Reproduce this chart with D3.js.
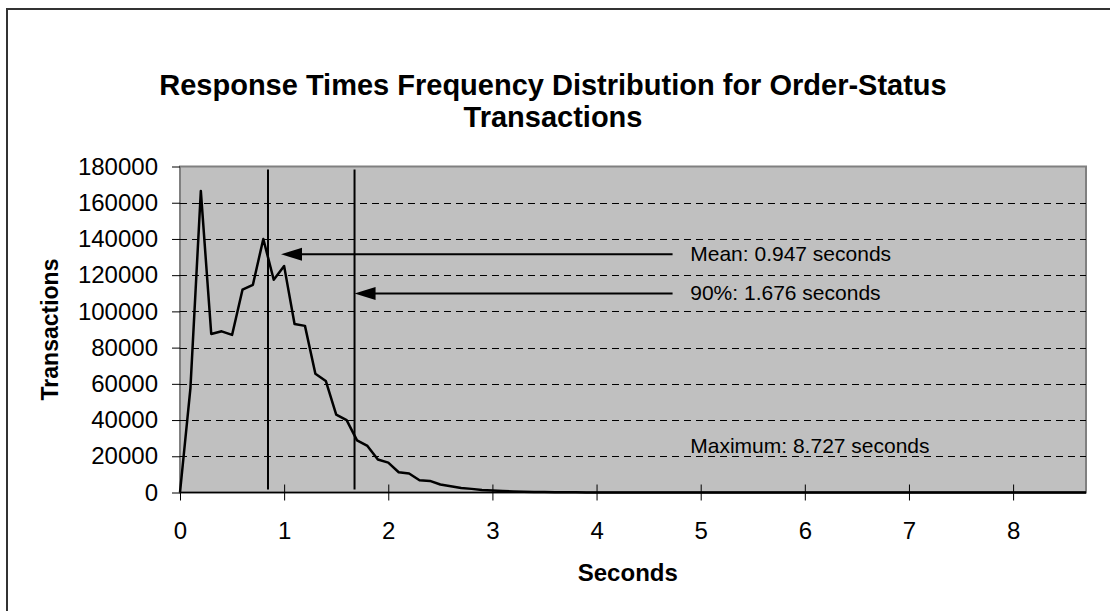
<!DOCTYPE html>
<html>
<head>
<meta charset="utf-8">
<script src="https://cdn.jsdelivr.net/npm/d3@7"></script>
<style>
  html, body { margin: 0; padding: 0; background: #fff; }
  text { font-family: "Liberation Sans", Arial, sans-serif; fill: #000; }
</style>
</head>
<body>
<svg id="chart" width="1110" height="611"></svg>
<script>
// ---- data ----
const seconds = [
  0.0, 0.1, 0.2, 0.3, 0.4, 0.5, 0.6, 0.7, 0.8, 0.9,
  1.0, 1.1, 1.2, 1.3, 1.4, 1.5, 1.6, 1.7, 1.8, 1.9,
  2.0, 2.1, 2.2, 2.3, 2.4, 2.5, 2.6, 2.7, 2.8, 2.9,
  3.0, 3.1, 3.2, 3.3, 3.4, 3.5, 3.6, 3.7, 3.8, 3.9,
  4.0, 4.1, 4.2, 4.3, 4.4, 4.5, 4.6, 4.7, 4.8, 4.9,
  5.0, 5.1, 5.2, 5.3, 5.4, 5.5, 5.6, 5.7, 5.8, 5.9,
  6.0, 6.1, 6.2, 6.3, 6.4, 6.5, 6.6, 6.7, 6.8, 6.9,
  7.0, 7.1, 7.2, 7.3, 7.4, 7.5, 7.6, 7.7, 7.8, 7.9,
  8.0, 8.1, 8.2, 8.3, 8.4, 8.5, 8.6, 8.7
];
const transactions = [
  0, 57500, 166500, 87500, 89000, 87000, 112000, 114700, 140000, 117500,
  125000, 93000, 92000, 65600, 61600, 43000, 40000, 28800, 25700, 18200,
  16500, 11200, 10500, 6800, 6400, 4400, 3500, 2500, 2000, 1400,
  1100, 800, 600, 450, 330, 250, 180, 130, 90, 65,
  45, 32, 24, 18, 13, 10, 8, 6, 5, 4,
  3, 3, 2, 2, 2, 1, 1, 1, 1, 1,
  1, 1, 1, 0, 0, 0, 0, 0, 0, 0,
  0, 0, 0, 0, 0, 0, 0, 0, 0, 0,
  0, 0, 0, 0, 0, 0, 0, 1
];
const xTicks = [0, 1, 2, 3, 4, 5, 6, 7, 8];
const yTicks = [0, 20000, 40000, 60000, 80000, 100000, 120000, 140000, 160000, 180000];
const titleLines = ["Response Times Frequency Distribution for Order-Status", "Transactions"];
const xTitle = "Seconds";
const yTitle = "Transactions";
// marker lines: where they are drawn (seconds) and the arrow height (transactions)
const markers = [
  {label: "Mean: 0.947 seconds", at: 0.845, arrowTip: 0.97, arrowY: 131600},
  {label: "90%: 1.676 seconds", at: 1.676, arrowTip: 1.676, arrowY: 109900}
];
const maxLabel = {label: "Maximum: 8.727 seconds", y: 25500};
const labelAt = 4.9;
const arrowEnd = 4.73;

// ---- layout ----
const svg = d3.select('#chart');
const plot = {left: 180, right: 1086, top: 166.5, bottom: 492.5};
const tick_font = '24px';

const x = d3.scaleLinear().domain([0, 8.7]).range([plot.left, plot.right]);
const y = d3.scaleLinear().domain([0, 180000]).range([plot.bottom, plot.top]);

// chart border
svg.append('rect')
  .attr('x', 7).attr('y', 9)
  .attr('width', 1200).attr('height', 700)
  .attr('fill', '#fff')
  .attr('stroke', '#333')
  .attr('stroke-width', 2);

// title
svg.append('g').selectAll('text')
  .data(titleLines)
  .enter().append('text')
  .attr('x', 553)
  .attr('y', (d, i) => 95 + i * 32)
  .attr('text-anchor', 'middle')
  .style('font-size', '29px')
  .style('font-weight', 'bold')
  .text(d => d);

// plot background
svg.append('rect')
  .attr('x', x(0)).attr('y', y(180000))
  .attr('width', x(8.7) - x(0))
  .attr('height', y(0) - y(180000))
  .attr('fill', '#c0c0c0')
  .attr('stroke', '#808080')
  .attr('stroke-width', 2);

// dashed gridlines
svg.append('g').selectAll('line')
  .data(yTicks.filter(d => d > 0 && d < 180000))
  .enter().append('line')
  .attr('x1', x(0)).attr('x2', x(8.7))
  .attr('y1', d => Math.round(y(d)) + 0.5)
  .attr('y2', d => Math.round(y(d)) + 0.5)
  .attr('stroke', '#000')
  .attr('stroke-width', 1)
  .attr('stroke-dasharray', '7,5');

// y axis
svg.append('g')
  .attr('transform', `translate(${plot.left},0)`)
  .call(d3.axisLeft(y).tickValues(yTicks).tickFormat(d3.format('d')).tickSize(8).tickPadding(14))
  .call(g => g.select('.domain').remove())
  .call(g => g.selectAll('.tick text')
    .style('font-size', tick_font)
    .style('font-family', '"Liberation Sans", Arial, sans-serif'));

// x axis: crossing ticks
const xAxis = svg.append('g')
  .attr('transform', `translate(0,${plot.bottom})`)
  .call(d3.axisBottom(x).tickValues(xTicks).tickFormat(d3.format('d')).tickSize(8))
  .call(g => g.select('.domain').remove());
xAxis.selectAll('.tick line').attr('y1', -8).attr('y2', 8);
xAxis.selectAll('.tick text')
  .attr('y', 29).attr('dy', '0.71em')
  .style('font-size', tick_font)
  .style('font-family', '"Liberation Sans", Arial, sans-serif');

svg.append('line')
  .attr('x1', x(0)).attr('x2', x(8.7))
  .attr('y1', plot.bottom).attr('y2', plot.bottom)
  .attr('stroke', '#000').attr('stroke-width', 1.5);

// axis titles
svg.append('text')
  .attr('x', x(4.3)).attr('y', 581)
  .attr('text-anchor', 'middle')
  .style('font-size', '24px').style('font-weight', 'bold')
  .text(xTitle);

svg.append('text')
  .attr('transform', `translate(58,${(plot.top + plot.bottom) / 2}) rotate(-90)`)
  .attr('text-anchor', 'middle')
  .style('font-size', '23px').style('font-weight', 'bold')
  .text(yTitle);

// data line
svg.append('path')
  .datum(seconds.map((s, i) => [s, transactions[i]]))
  .attr('fill', 'none')
  .attr('stroke', '#000')
  .attr('stroke-width', 2.5)
  .attr('stroke-linejoin', 'round')
  .attr('d', d3.line().x(d => x(d[0])).y(d => y(d[1])));

// marker lines with arrows and labels
const mg = svg.append('g');
mg.selectAll('line.marker')
  .data(markers)
  .enter().append('line')
  .attr('class', 'marker')
  .attr('x1', d => x(d.at)).attr('x2', d => x(d.at))
  .attr('y1', plot.top + 3).attr('y2', plot.bottom - 3)
  .attr('stroke', '#000').attr('stroke-width', 2);

mg.selectAll('line.arrow')
  .data(markers)
  .enter().append('line')
  .attr('class', 'arrow')
  .attr('x1', d => x(d.arrowTip) + 15).attr('x2', x(arrowEnd))
  .attr('y1', d => y(d.arrowY)).attr('y2', d => y(d.arrowY))
  .attr('stroke', '#000').attr('stroke-width', 2);

mg.selectAll('path.head')
  .data(markers)
  .enter().append('path')
  .attr('class', 'head')
  .attr('d', d => {
    const tx = x(d.arrowTip), ty = y(d.arrowY);
    return `M${tx},${ty}L${tx + 21},${ty - 6.5}L${tx + 21},${ty + 6.5}Z`;
  })
  .attr('fill', '#000');

mg.selectAll('text.note')
  .data(markers.map(d => ({label: d.label, y: d.arrowY})).concat([maxLabel]))
  .enter().append('text')
  .attr('class', 'note')
  .attr('x', x(labelAt))
  .attr('y', d => y(d.y) + 7)
  .style('font-size', '21px')
  .text(d => d.label);
</script>
</body>
</html>
